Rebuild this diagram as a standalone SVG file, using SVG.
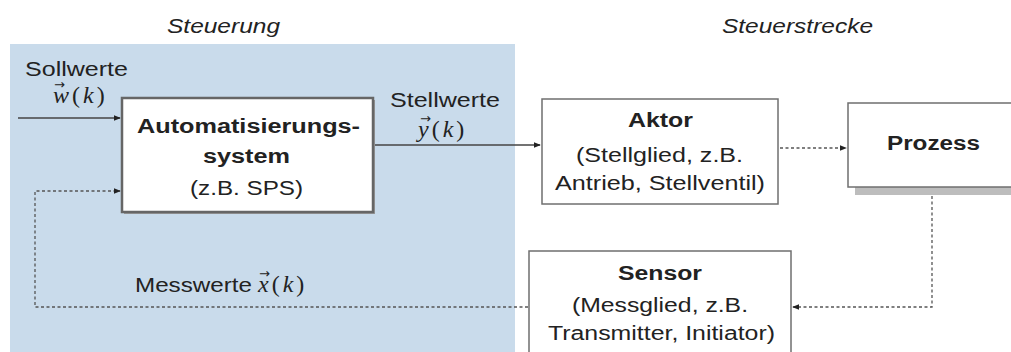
<svg xmlns="http://www.w3.org/2000/svg" width="1011" height="352" viewBox="0 0 1011 352">
<defs>
<marker id="arr" viewBox="0 0 8 8" refX="7" refY="4" markerWidth="7" markerHeight="7" markerUnits="userSpaceOnUse" orient="auto">
<path d="M0,0.8 L8,4 L0,7.2 Z" fill="#222"/>
</marker>
<style>
.t{font-family:"Liberation Sans",Arial,sans-serif;font-size:20px;fill:#222;}
.b{font-weight:bold;}
.i{font-style:italic;}
.m{font-family:"Liberation Serif","DejaVu Serif",serif;font-size:24px;fill:#222;letter-spacing:3px;}
.mi{font-style:italic;}
.vec{font-family:"DejaVu Sans",sans-serif;font-size:13px;letter-spacing:0;}
.box{fill:#fff;stroke:#6f6f6f;stroke-width:1.5;}
.solid{fill:none;stroke:#444;stroke-width:1.3;}
.dash{fill:none;stroke:#555;stroke-width:1.3;stroke-dasharray:3 2.5;}
</style>
</defs>
<rect x="0" y="0" width="1011" height="352" fill="#fff"/>
<rect id="panel" x="10" y="44" width="505" height="320" fill="#c9dbeb"/>
<text class="t i" x="167" y="33" textLength="113" lengthAdjust="spacingAndGlyphs">Steuerung</text>
<text class="t i" x="722" y="33" textLength="151" lengthAdjust="spacingAndGlyphs">Steuerstrecke</text>

<g id="connectors">
<line class="solid" x1="18" y1="118" x2="120" y2="118" marker-end="url(#arr)"/>
<line class="solid" x1="375" y1="145" x2="540" y2="145" marker-end="url(#arr)"/>
<line class="dash" x1="780" y1="148" x2="846" y2="148" marker-end="url(#arr)"/>
<polyline class="dash" points="932,196 932,307 793,307" marker-end="url(#arr)"/>
<polyline class="dash" points="528,307 35,307 35,191 120,191" marker-end="url(#arr)"/>
</g>

<g id="labels">
<text class="t" x="25" y="76" textLength="103" lengthAdjust="spacingAndGlyphs">Sollwerte</text>
<text class="m"><tspan class="vec" x="54" y="89">→</tspan><tspan class="mi" x="53" y="103">w</tspan>(<tspan class="mi">k</tspan>)</text>
<text class="t" x="390" y="107" textLength="110" lengthAdjust="spacingAndGlyphs">Stellwerte</text>
<text class="m"><tspan class="vec" x="420" y="123">→</tspan><tspan class="mi" x="418" y="137">y</tspan>(<tspan class="mi">k</tspan>)</text>
<text class="t" x="135" y="292" textLength="117" lengthAdjust="spacingAndGlyphs">Messwerte</text>
<text class="m"><tspan class="vec" x="259" y="278">→</tspan><tspan class="mi" x="258" y="292">x</tspan>(<tspan class="mi">k</tspan>)</text>
</g>

<g id="automatisierungssystem">
<rect x="124" y="100" width="251" height="114" fill="#9a9a9a"/>
<rect x="122" y="98" width="251" height="114" fill="#fff" stroke="#666" stroke-width="2.5"/>
<text class="t b" x="137" y="133" textLength="223" lengthAdjust="spacingAndGlyphs">Automatisierungs-</text>
<text class="t b" x="203" y="163" textLength="87" lengthAdjust="spacingAndGlyphs">system</text>
<text class="t" x="190" y="195" textLength="113" lengthAdjust="spacingAndGlyphs">(z.B. SPS)</text>
</g>

<g id="aktor">
<rect class="box" x="542" y="99" width="236" height="105"/>
<text class="t b" x="628" y="127" textLength="65" lengthAdjust="spacingAndGlyphs">Aktor</text>
<text class="t" x="576" y="162" textLength="167" lengthAdjust="spacingAndGlyphs">(Stellglied, z.B.</text>
<text class="t" x="555" y="190" textLength="210" lengthAdjust="spacingAndGlyphs">Antrieb, Stellventil)</text>
</g>

<g id="prozess">
<rect x="855" y="110" width="170" height="85" fill="#bdbdbd"/>
<rect class="box" x="848" y="103" width="175" height="84"/>
<text class="t b" x="887" y="150" textLength="93" lengthAdjust="spacingAndGlyphs">Prozess</text>
</g>

<g id="sensor">
<rect class="box" x="529" y="251" width="262" height="110"/>
<text class="t b" x="618" y="280" textLength="84" lengthAdjust="spacingAndGlyphs">Sensor</text>
<text class="t" x="572" y="312" textLength="176" lengthAdjust="spacingAndGlyphs">(Messglied, z.B.</text>
<text class="t" x="548" y="340" textLength="227" lengthAdjust="spacingAndGlyphs">Transmitter, Initiator)</text>
</g>
</svg>
